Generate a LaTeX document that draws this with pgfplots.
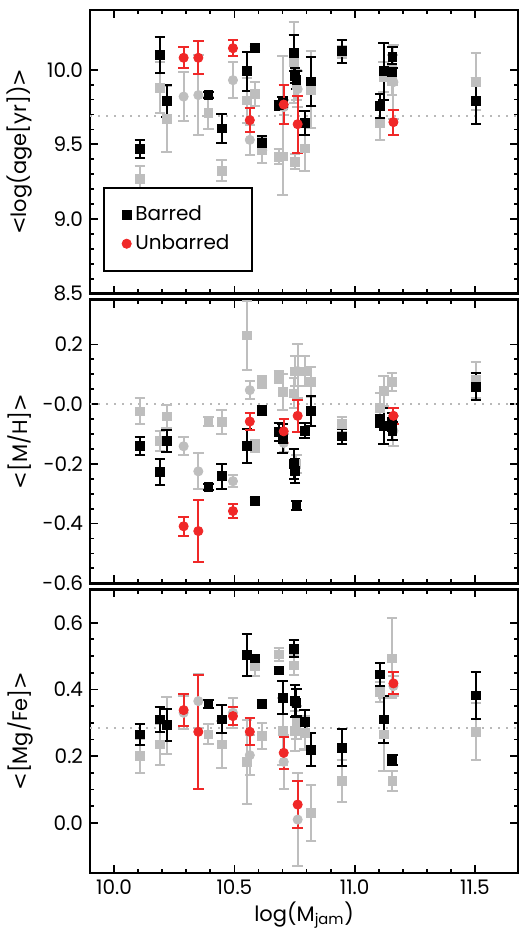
\documentclass[border=0pt]{standalone}
\usepackage{fontspec}
\setmainfont{Poppins}
\newfontfamily\symf{DejaVu Sans}
\usepackage{pgfplots}
\pgfplotsset{compat=1.18}
\usepgfplotslibrary{groupplots}

\definecolor{redc}{RGB}{240,40,40}
\definecolor{grayc}{RGB}{190,190,190}
\definecolor{dotc}{RGB}{185,185,185}

\newcommand{\lt}{{\symf <}}
\newcommand{\gt}{{\symf >}}

\pgfplotsset{
  pts/.style={only marks, color=#1, mark options={fill=#1, draw=#1, line width=0.4pt},
    error bars/y dir=both, error bars/y explicit,
    error bars/error bar style={#1, line width=1pt},
    error bars/error mark options={rotate=90, mark size=2.6pt, #1, line width=1pt}},
  sq/.style={pts=#1, mark=square*, mark size=2.2pt},
  ci/.style={pts=#1, mark=*, mark size=2.3pt},
  refline/.style={dotc, line width=1pt, dash pattern=on 1pt off 3pt, forget plot},
}

\begin{document}
\begin{tikzpicture}
\begin{groupplot}[
  group style={group size=1 by 3, vertical sep=3pt, xticklabels at=edge bottom, group name=my plots},
  width=214pt, height=141.75pt, scale only axis,
  xmin=9.9, xmax=11.68,
  xtick={10,10.5,11,11.5}, xticklabels={10.0,10.5,11.0,11.5},
  minor x tick num=4,
  tick align=inside,
  major tick length=4pt, minor tick length=2.2pt,
  every tick/.style={black, line width=0.9pt},
  axis line style={line width=1.2pt},
  tick label style={font=\fontsize{10}{12}\selectfont},
  every axis y label/.style={at={(axis description cs:-0.1636,0.5)}, rotate=90, anchor=center, font=\fontsize{10.5}{12}\selectfont},
  every axis x label/.style={at={(axis description cs:0.5,0)}, yshift=-21pt, anchor=center, font=\fontsize{10.5}{12}\selectfont},
]

% ---- age ----
\nextgroupplot[
  ymin=8.5, ymax=10.4,
  ytick={8.5,9,9.5,10}, yticklabels={8.5,9.0,9.5,10.0},
  minor y tick num=4,
  ylabel={\lt log(age[yr])\gt},
  legend style={at={(axis description cs:0.0304,0.0776)}, anchor=south west, draw=black, line width=1pt,
    font=\fontsize{10}{12}\selectfont, inner xsep=9pt, inner ysep=7pt, row sep=1.5pt},
  legend cell align=left,
]
\addplot[refline] coordinates {(9.9,9.69) (11.68,9.69)};
\addplot[sq=grayc, forget plot] coordinates {
(10.107,9.27) +- (0,0.085)
(10.190,9.88) +- (0,0.17)
(10.218,9.67) +- (0,0.22)
(10.392,9.71) +- (0,0.11)
(10.447,9.324) +- (0,0.07)
(10.553,9.795) +- (0,0.15)
(10.585,9.84) +- (0,0.08)
(10.615,9.462) +- (0,0.085)
(10.685,9.417) +- (0,0.05)
(10.700,9.42) += (0,0.67) -= (0,0.26)
(10.747,10.05) +- (0,0.27)
(10.752,9.384) +- (0,0.05)
(10.758,9.90) +- (0,0.10)
(10.792,9.473) +- (0,0.15)
(10.819,9.867) +- (0,0.26)
(10.947,10.12) +- (0,0.04)
(11.106,9.64) +- (0,0.11)
(11.120,9.95) +- (0,0.10)
(11.157,10.00) +- (0,0.10)
(11.155,9.93) +- (0,0.10)
(11.503,9.92) +- (0,0.19)
};
\addplot[ci=grayc, forget plot] coordinates {
(10.289,9.82) +- (0,0.165)
(10.350,9.83) +- (0,0.27)
(10.494,9.93) +- (0,0.12)
(10.564,9.53) +- (0,0.10)
(10.705,9.75) +- (0,0.05)
(10.763,9.87) +- (0,0.12)
(11.161,9.917) +- (0,0.25)
};
\addplot[sq=black] coordinates {
(10.107,9.467) +- (0,0.06)
(10.190,10.10) +- (0,0.12)
(10.218,9.79) +- (0,0.11)
(10.392,9.83) +- (0,0.02)
(10.447,9.607) +- (0,0.095)
(10.553,9.99) +- (0,0.13)
(10.585,10.144) +- (0,0.01)
(10.615,9.51) +- (0,0.045)
(10.685,9.762) +- (0,0.03)
(10.700,9.78) +- (0,0.04)
(10.747,10.11) +- (0,0.12)
(10.752,9.96) +- (0,0.05)
(10.758,9.93) +- (0,0.06)
(10.792,9.644) +- (0,0.08)
(10.819,9.922) +- (0,0.165)
(10.947,10.124) +- (0,0.077)
(11.106,9.755) +- (0,0.08)
(11.120,9.99) +- (0,0.19)
(11.157,10.084) +- (0,0.07)
(11.155,9.985) +- (0,0.05)
(11.503,9.79) +- (0,0.155)
};
\addlegendentry{Barred}
\addplot[ci=redc] coordinates {
(10.289,10.08) +- (0,0.07)
(10.350,10.08) +- (0,0.11)
(10.494,10.144) +- (0,0.055)
(10.564,9.662) +- (0,0.08)
(10.705,9.767) +- (0,0.13)
(10.763,9.635) +- (0,0.19)
(11.161,9.649) +- (0,0.083)
};
\addlegendentry{Unbarred}

% ---- [M/H] ----
\nextgroupplot[
  ymin=-0.6, ymax=0.35,
  ytick={-0.6,-0.4,-0.2,0,0.2}, yticklabels={-0.6,-0.4,-0.2,-0.0,0.2},
  minor y tick num=3,
  ylabel={\lt[M/H]\gt},
]
\addplot[refline] coordinates {(9.9,0) (11.68,0)};
\addplot[sq=grayc] coordinates {
(10.107,-0.024) +- (0,0.043)
(10.190,-0.124) +- (0,0.033)
(10.218,-0.041) +- (0,0.039)
(10.392,-0.059) +- (0,0.015)
(10.447,-0.059) +- (0,0.04)
(10.553,0.23) +- (0,0.115)
(10.585,-0.139) +- (0,0.02)
(10.615,0.075) +- (0,0.02)
(10.685,0.092) +- (0,0.02)
(10.700,0.042) +- (0,0.06)
(10.747,0.036) +- (0,0.05)
(10.752,0.11) +- (0,0.05)
(10.758,-0.20) +- (0,0.03)
(10.792,0.11) +- (0,0.05)
(10.819,0.075) +- (0,0.05)
(10.947,-0.067) +- (0,0.025)
(11.106,-0.013) +- (0,0.05)
(11.120,0.044) +- (0,0.05)
(11.157,-0.09) +- (0,0.03)
(11.155,0.075) +- (0,0.03)
(11.503,0.08) +- (0,0.06)
};
\addplot[ci=grayc] coordinates {
(10.289,-0.141) +- (0,0.03)
(10.350,-0.225) +- (0,0.06)
(10.494,-0.258) +- (0,0.02)
(10.564,0.047) +- (0,0.03)
(10.705,-0.13) +- (0,0.03)
(10.763,0.111) +- (0,0.09)
(11.161,-0.089) +- (0,0.05)
};
\addplot[sq=black] coordinates {
(10.107,-0.141) +- (0,0.03)
(10.190,-0.226) +- (0,0.044)
(10.218,-0.124) +- (0,0.037)
(10.392,-0.276) +- (0,0.01)
(10.447,-0.241) +- (0,0.042)
(10.553,-0.141) +- (0,0.057)
(10.585,-0.325) +- (0,0.01)
(10.615,-0.022) +- (0,0.015)
(10.685,-0.092) +- (0,0.03)
(10.700,-0.115) +- (0,0.05)
(10.747,-0.20) +- (0,0.05)
(10.752,-0.224) +- (0,0.04)
(10.758,-0.339) +- (0,0.015)
(10.792,-0.089) +- (0,0.025)
(10.819,-0.022) +- (0,0.05)
(10.947,-0.108) +- (0,0.025)
(11.106,-0.056) +- (0,0.02)
(11.120,-0.072) +- (0,0.06)
(11.157,-0.089) +- (0,0.03)
(11.155,-0.06) +- (0,0.03)
(11.503,0.059) +- (0,0.045)
};
\addplot[ci=redc] coordinates {
(10.289,-0.409) +- (0,0.032)
(10.350,-0.425) +- (0,0.105)
(10.494,-0.358) +- (0,0.023)
(10.564,-0.058) +- (0,0.03)
(10.705,-0.091) +- (0,0.04)
(10.763,-0.039) +- (0,0.053)
(11.161,-0.039) +- (0,0.027)
};

% ---- [Mg/Fe] ----
\nextgroupplot[
  ymin=-0.15, ymax=0.7,
  ytick={0,0.2,0.4,0.6}, yticklabels={0.0,0.2,0.4,0.6},
  minor y tick num=3,
  ylabel={\lt[Mg/Fe]\gt},
  xlabel={log(M\textsubscript{jam})},
]
\addplot[refline] coordinates {(9.9,0.284) (11.68,0.284)};
\addplot[sq=grayc] coordinates {
(10.107,0.20) +- (0,0.05)
(10.190,0.235) +- (0,0.06)
(10.218,0.293) +- (0,0.085)
(10.392,0.265) +- (0,0.03)
(10.447,0.235) +- (0,0.07)
(10.553,0.183) +- (0,0.125)
(10.585,0.47) +- (0,0.03)
(10.615,0.26) +- (0,0.038)
(10.685,0.505) +- (0,0.02)
(10.700,0.275) +- (0,0.10)
(10.747,0.472) +- (0,0.03)
(10.752,0.275) +- (0,0.06)
(10.758,0.30) +- (0,0.05)
(10.792,0.27) +- (0,0.05)
(10.819,0.03) +- (0,0.085)
(10.947,0.127) +- (0,0.063)
(11.106,0.393) +- (0,0.03)
(11.120,0.265) +- (0,0.11)
(11.157,0.127) +- (0,0.03)
(11.155,0.493) +- (0,0.12)
(11.503,0.273) +- (0,0.085)
};
\addplot[ci=grayc] coordinates {
(10.289,0.33) +- (0,0.05)
(10.350,0.365) +- (0,0.08)
(10.494,0.33) +- (0,0.045)
(10.564,0.203) +- (0,0.06)
(10.705,0.183) +- (0,0.08)
(10.763,0.01) +- (0,0.14)
(11.161,0.41) +- (0,0.03)
};
\addplot[sq=black] coordinates {
(10.107,0.265) +- (0,0.031)
(10.190,0.31) +- (0,0.037)
(10.218,0.293) +- (0,0.048)
(10.392,0.355) +- (0,0.012)
(10.447,0.31) +- (0,0.042)
(10.553,0.503) +- (0,0.063)
(10.585,0.493) +- (0,0.01)
(10.615,0.357) +- (0,0.012)
(10.685,0.457) +- (0,0.01)
(10.700,0.375) +- (0,0.05)
(10.747,0.522) +- (0,0.025)
(10.752,0.365) +- (0,0.047)
(10.758,0.36) +- (0,0.04)
(10.792,0.303) +- (0,0.034)
(10.819,0.22) +- (0,0.048)
(10.947,0.225) +- (0,0.055)
(11.106,0.445) +- (0,0.034)
(11.120,0.31) +- (0,0.07)
(11.157,0.188) +- (0,0.015)
(11.155,0.19) +- (0,0.015)
(11.503,0.382) +- (0,0.07)
};
\addplot[ci=redc] coordinates {
(10.289,0.338) +- (0,0.049)
(10.350,0.273) +- (0,0.17)
(10.494,0.32) +- (0,0.027)
(10.564,0.273) +- (0,0.04)
(10.705,0.21) +- (0,0.048)
(10.763,0.055) +- (0,0.07)
(11.161,0.418) +- (0,0.033)
};
\end{groupplot}
\pgfresetboundingbox
\path ([shift={(-45pt,5pt)}]my plots c1r1.north west) rectangle ([shift={(1pt,-29pt)}]my plots c1r3.south east);
\end{tikzpicture}
\end{document}
